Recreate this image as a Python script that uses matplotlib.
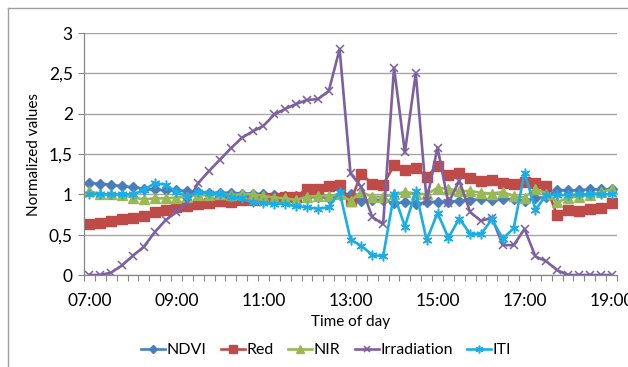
import numpy as np
import matplotlib
matplotlib.use("Agg")
import matplotlib.pyplot as plt
from matplotlib.lines import Line2D
from matplotlib.ticker import FuncFormatter, FixedLocator

plt.rcParams['font.family'] = ['Lato', 'DejaVu Sans']

# Measurements every 15 minutes from 07:00 to 19:00
tick_labels = ["07:00", "09:00", "11:00", "13:00", "15:00", "17:00", "19:00"]

ndvi = [1.14, 1.13, 1.12, 1.10, 1.09, 1.07, 1.06, 1.05, 1.05, 1.04,
        1.03, 1.02, 1.02, 1.02, 1.01, 1.01, 1.00, 0.99, 0.98, 0.98,
        0.97, 0.97, 0.96, 0.99, 1.00, 0.92, 0.93, 0.93, 0.89, 0.90,
        0.88, 0.90, 0.91, 0.91, 0.92, 0.93, 0.94, 0.93, 0.94, 0.94,
        0.92, 0.95, 0.97, 1.05, 1.05, 1.05, 1.06, 1.06, 1.06]

red = [0.63, 0.64, 0.67, 0.70, 0.71, 0.73, 0.78, 0.80, 0.84, 0.86,
       0.88, 0.89, 0.92, 0.91, 0.93, 0.93, 0.95, 0.95, 0.97, 0.97,
       1.07, 1.06, 1.10, 1.12, 0.92, 1.25, 1.13, 1.12, 1.36, 1.30,
       1.33, 1.22, 1.35, 1.24, 1.26, 1.20, 1.17, 1.18, 1.14, 1.13,
       1.15, 1.14, 1.10, 0.74, 0.80, 0.79, 0.82, 0.83, 0.89]

nir = [1.04, 1.00, 1.00, 0.99, 0.96, 0.94, 0.95, 0.95, 0.96, 0.97,
       0.99, 0.99, 1.00, 0.99, 1.00, 1.00, 0.98, 0.96, 0.95, 0.93,
       0.97, 0.98, 0.98, 1.00, 0.92, 1.03, 0.97, 0.97, 1.00, 1.03,
       1.01, 1.00, 1.08, 1.07, 1.04, 1.04, 1.02, 1.01, 1.03, 0.98,
       0.96, 1.07, 1.01, 0.90, 0.96, 0.97, 0.99, 1.03, 1.06]

irradiation = [0.00, 0.00, 0.03, 0.12, 0.24, 0.35, 0.53, 0.68, 0.78, 0.90,
               1.14, 1.29, 1.43, 1.57, 1.70, 1.78, 1.85, 1.99, 2.06, 2.12,
               2.17, 2.18, 2.28, 2.80, 1.26, 1.09, 0.72, 0.63, 2.57, 1.52,
               2.50, 0.92, 1.58, 0.89, 1.17, 0.78, 0.67, 0.71, 0.37, 0.37,
               0.57, 0.23, 0.17, 0.06, 0.00, 0.00, 0.00, 0.00, 0.00]

iti = [1.00, 1.00, 1.00, 1.00, 1.00, 1.05, 1.14, 1.12, 1.03, 0.97,
       1.03, 1.02, 1.00, 0.97, 0.95, 0.90, 0.89, 0.88, 0.88, 0.85,
       0.84, 0.82, 0.84, 1.03, 0.44, 0.36, 0.25, 0.23, 1.00, 0.60,
       1.04, 0.43, 0.77, 0.46, 0.70, 0.51, 0.51, 0.69, 0.45, 0.58,
       1.27, 0.81, 0.99, 0.99, 0.99, 1.00, 1.00, 1.00, 1.00]

x = np.arange(len(ndvi))

W, H = 628, 367
fig = plt.figure(figsize=(W / 100, H / 100), dpi=100)
ax = fig.add_axes([84 / W, 1 - 275 / H, (617 - 84) / W, (275 - 33) / H])

series = [
    ("NDVI", ndvi, "#4A7EBB", dict(marker="D", markersize=5.5)),
    ("Red", red, "#BE4B48", dict(marker="s", markersize=6.5)),
    ("NIR", nir, "#98B954", dict(marker="^", markersize=6.5)),
    ("Irradiation", irradiation, "#7D60A0", dict(marker="x", markersize=6, markeredgewidth=1.1)),
    ("ITI", iti, "#1BAEE6", dict(marker=(6, 2, 0), markersize=7, markeredgewidth=1.1)),
]
for name, vals, col, mk in series:
    ax.plot(x, vals, color=col, linewidth=1.9, label=name,
            markerfacecolor=col, markeredgecolor=col, **mk)

ax.set_xlim(-0.5, len(x) - 0.5)
ax.set_ylim(0, 3)
ax.set_yticks(np.arange(0, 3.01, 0.5))
ax.yaxis.set_major_formatter(FuncFormatter(
    lambda v, p: ("%g" % v).replace(".", ",")))
ax.grid(axis="y", color="#A6A6A6", linewidth=1.0)
ax.set_axisbelow(True)

ax.xaxis.set_major_locator(FixedLocator(np.arange(0, len(x), 8)))
ax.set_xticklabels(tick_labels)
ax.xaxis.set_minor_locator(FixedLocator(np.arange(-0.5, len(x), 1)))
ax.tick_params(axis="x", which="major", length=0, pad=13, labelsize=12.5)
ax.tick_params(axis="x", which="minor", length=4, width=0.8, color="#868686")
ax.tick_params(axis="y", length=4, width=0.8, color="#868686", labelsize=12.5, pad=4)

for s in ("top", "right"):
    ax.spines[s].set_visible(False)
for s in ("left", "bottom"):
    ax.spines[s].set_color("#868686")
    ax.spines[s].set_linewidth(0.9)

ax.set_xlabel("Time of day", fontsize=11, labelpad=4)
ax.set_ylabel("Normalized values", fontsize=11, labelpad=6)

fig.legend(loc="center", bbox_to_anchor=(326 / W, 1 - 350 / H), ncol=5,
           frameon=False, fontsize=11.5, handlelength=1.5, columnspacing=0.9,
           handletextpad=0.1, borderaxespad=0, markerscale=0.8)

# outer chart frame
fig.add_artist(Line2D([8 / W, 1], [1 - 8 / H, 1 - 8 / H], color="#A0A0A0", linewidth=1.0))
fig.add_artist(Line2D([8 / W, 8 / W], [0, 1 - 8 / H], color="#A0A0A0", linewidth=1.0))

fig.savefig("out.png", dpi=100)
